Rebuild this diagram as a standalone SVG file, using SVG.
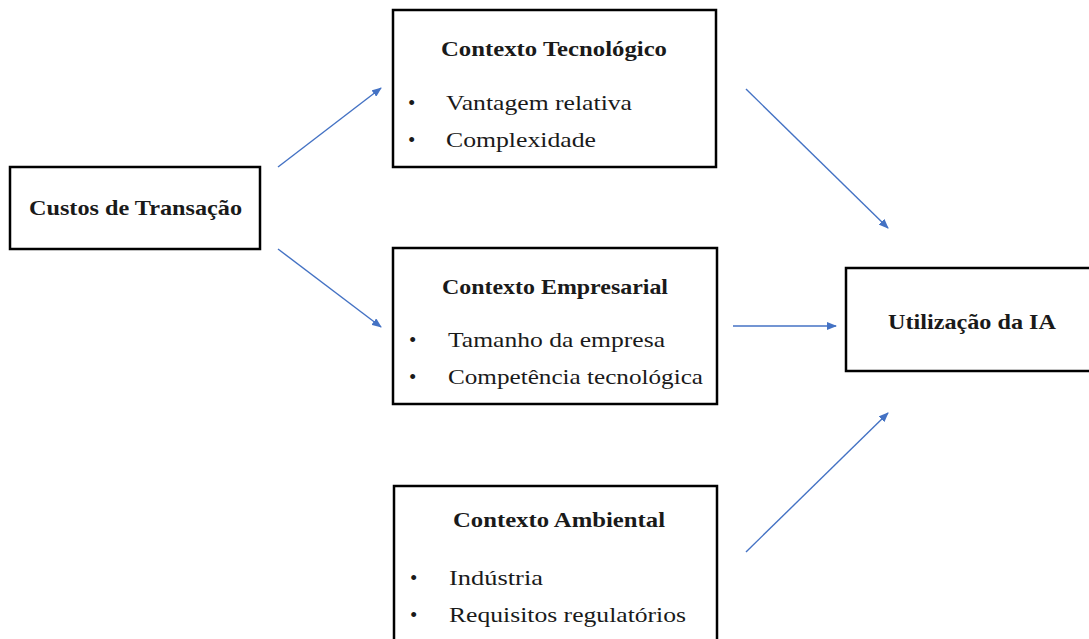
<svg xmlns="http://www.w3.org/2000/svg" width="1089" height="639" viewBox="0 0 1089 639">
<defs>
<marker id="ah" markerWidth="10" markerHeight="8" refX="9" refY="4" orient="auto" markerUnits="userSpaceOnUse">
<path d="M0,0 L10,4 L0,8 Z" fill="#4472C4"/>
</marker>
<style>
.box{fill:#fff;stroke:#000;stroke-width:2.5}
.t{font-family:"Liberation Serif","DejaVu Serif",serif;font-size:21px;fill:#1a1a1a}
.b{font-weight:bold;text-anchor:middle}
.c{stroke:#4472C4;stroke-width:1.4;fill:none;marker-end:url(#ah)}
</style>
</defs>
<rect width="1089" height="639" fill="#fff"/>
<g id="connectors">
<line class="c" x1="278" y1="167" x2="381" y2="88"/>
<line class="c" x1="278" y1="249" x2="381" y2="327"/>
<line class="c" x1="746" y1="89" x2="888" y2="228"/>
<line class="c" x1="733" y1="326" x2="836" y2="326"/>
<line class="c" x1="746" y1="552" x2="888" y2="413"/>
</g>
<g id="custos">
<rect class="box" x="10" y="167" width="250" height="82"/>
<text class="t b" x="135.5" y="215" textLength="213" lengthAdjust="spacingAndGlyphs">Custos de Transação</text>
</g>
<g id="tecnologico">
<rect class="box" x="393" y="10" width="323" height="157"/>
<text class="t b" x="554" y="56" textLength="226" lengthAdjust="spacingAndGlyphs">Contexto Tecnológico</text>
<text class="t" x="408" y="110">•</text>
<text class="t" x="446" y="110" textLength="186" lengthAdjust="spacingAndGlyphs">Vantagem relativa</text>
<text class="t" x="408" y="147">•</text>
<text class="t" x="446" y="147" textLength="150" lengthAdjust="spacingAndGlyphs">Complexidade</text>
</g>
<g id="empresarial">
<rect class="box" x="393" y="248" width="324" height="156"/>
<text class="t b" x="555" y="294" textLength="226" lengthAdjust="spacingAndGlyphs">Contexto Empresarial</text>
<text class="t" x="409" y="347">•</text>
<text class="t" x="448" y="347" textLength="217" lengthAdjust="spacingAndGlyphs">Tamanho da empresa</text>
<text class="t" x="409" y="384">•</text>
<text class="t" x="448" y="384" textLength="255" lengthAdjust="spacingAndGlyphs">Competência tecnológica</text>
</g>
<g id="ambiental">
<rect class="box" x="394" y="486" width="323" height="170"/>
<text class="t b" x="559" y="527" textLength="212" lengthAdjust="spacingAndGlyphs">Contexto Ambiental</text>
<text class="t" x="410" y="585">•</text>
<text class="t" x="449" y="585" textLength="94" lengthAdjust="spacingAndGlyphs">Indústria</text>
<text class="t" x="410" y="622">•</text>
<text class="t" x="449" y="622" textLength="237" lengthAdjust="spacingAndGlyphs">Requisitos regulatórios</text>
</g>
<g id="utilizacao">
<rect class="box" x="846" y="268" width="245" height="103"/>
<text class="t b" x="972" y="329" textLength="168" lengthAdjust="spacingAndGlyphs">Utilização da IA</text>
</g>
</svg>
